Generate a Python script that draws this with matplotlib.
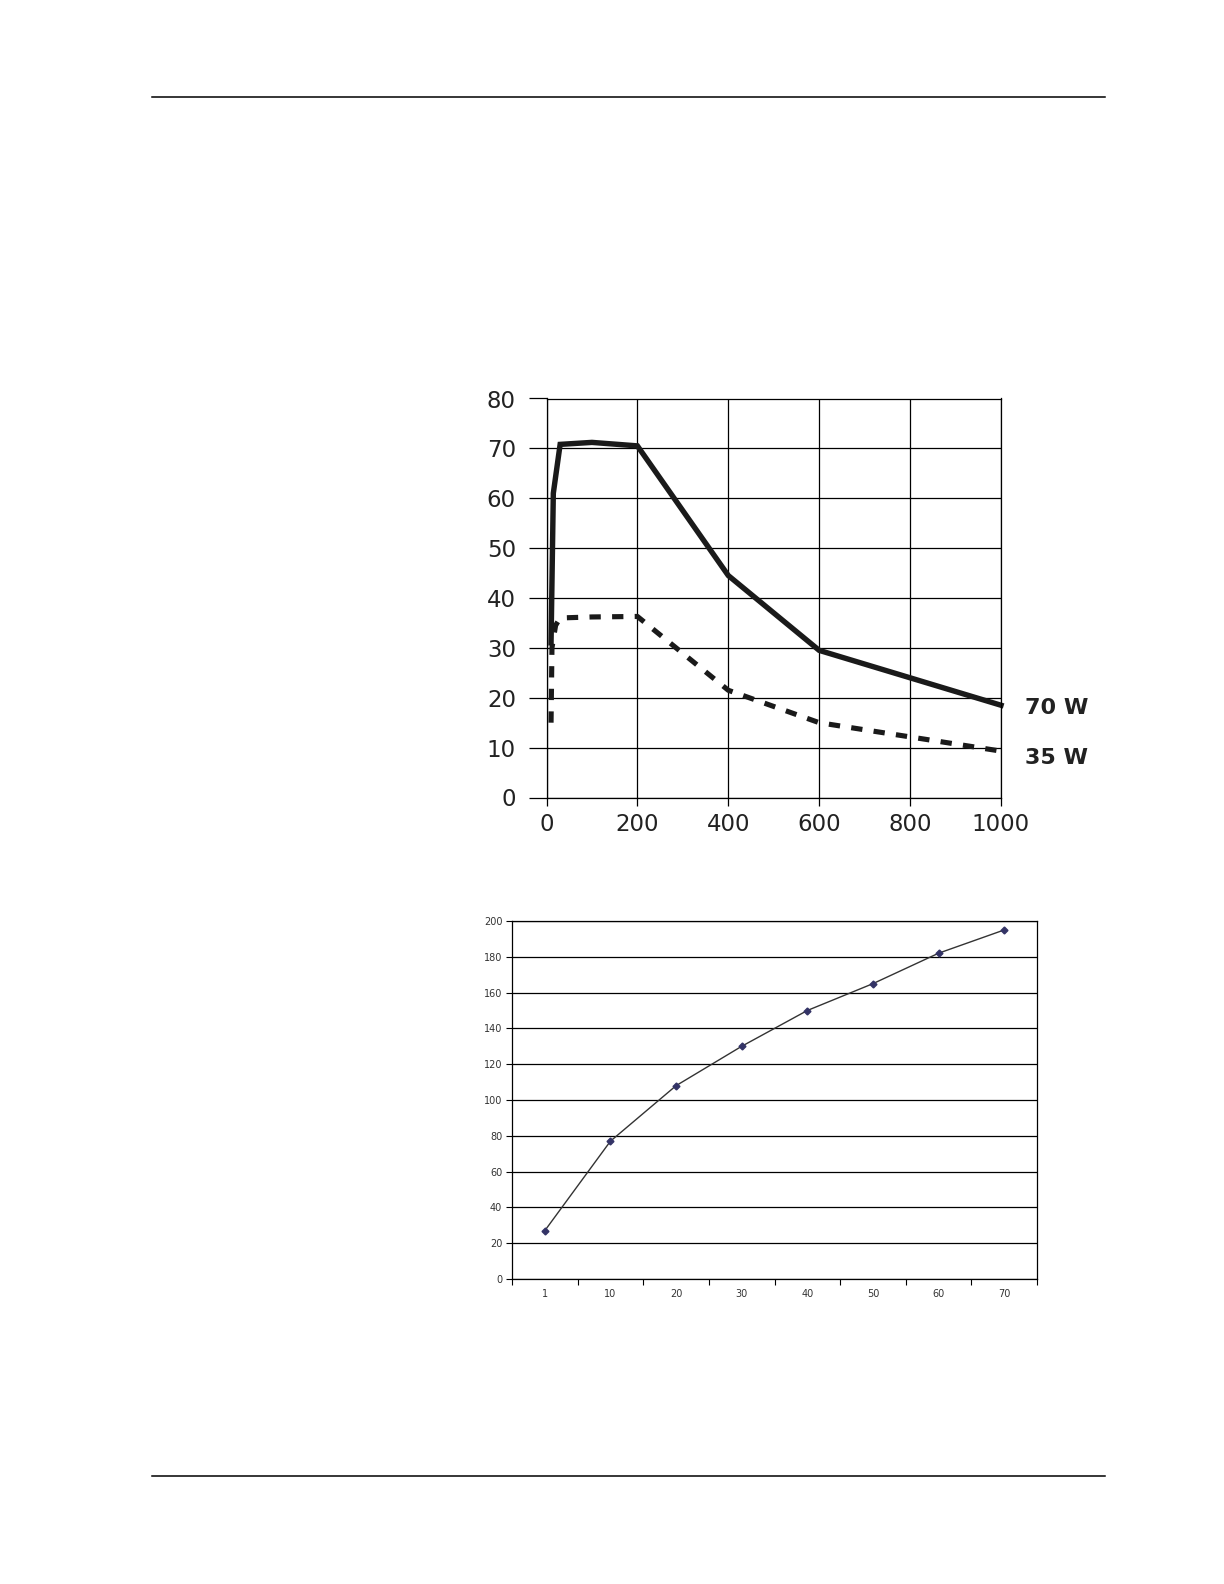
import matplotlib.pyplot as plt
import matplotlib.lines as mlines
import numpy as np

# 상단 그래프 데이터 (70 W / 35 W)
x70 = [10, 15, 30, 100, 200, 400, 600, 1000]
y70 = [31, 61, 70.8, 71.2, 70.5, 44.5, 29.5, 18.5]
x35 = [10, 12, 20, 30, 100, 200, 400, 600, 1000]
y35 = [15, 30, 34.5, 36, 36.2, 36.3, 21.5, 15, 9.3]
top_xticks = [0, 200, 400, 600, 800, 1000]
top_yticks = [0, 10, 20, 30, 40, 50, 60, 70, 80]

# 하단 그래프 데이터
cats = ['1', '10', '20', '30', '40', '50', '60', '70']
vals = [27, 77, 108, 130, 150, 165, 182, 195]
bot_yticks = [0, 20, 40, 60, 80, 100, 120, 140, 160, 180, 200]

fig = plt.figure(figsize=(12.24, 15.84), dpi=100)
W, H = 1224, 1584

# 머리글/바닥글 선
for yy in [97, 1475.5]:
    fig.add_artist(mlines.Line2D([151.5 / W, 1105 / W], [1 - yy / H, 1 - yy / H],
                                 color='black', lw=1.1))

# 상단 그래프
ax1 = fig.add_axes([546.5 / W, 1 - 797.5 / H, 454.5 / W, 399 / H])
ax1.plot(x70, y70, color='#1a1a1a', lw=3.9, solid_joinstyle='miter', clip_on=False)
ax1.plot(x35, y35, color='#1a1a1a', lw=3.7, linestyle=(0, (2.2, 2.2)), clip_on=False)
ax1.set_xlim(0, 1000)
ax1.set_ylim(0, 80)
ax1.set_xticks(top_xticks)
ax1.set_yticks(top_yticks)
ax1.grid(True, color='black', lw=0.9)
for s in ax1.spines.values():
    s.set_linewidth(0.9)
ax1.tick_params(axis='x', length=6, width=0.9, pad=5, labelsize=16.5)
ax1.tick_params(axis='y', length=13, width=0.9, pad=9, labelsize=16.5)
for lab in ax1.get_xticklabels() + ax1.get_yticklabels():
    lab.set_family('DejaVu Sans')
    lab.set_color('#222222')
ax1.text(1053, 17.9, '70 W', fontsize=16, fontweight='bold', va='center',
         ha='left', family='DejaVu Sans', color='#222222', clip_on=False)
ax1.text(1053, 8.0, '35 W', fontsize=16, fontweight='bold', va='center',
         ha='left', family='DejaVu Sans', color='#222222', clip_on=False)

# 하단 그래프
ax2 = fig.add_axes([512 / W, 1 - 1279 / H, 525 / W, 358 / H])
xpos = np.arange(len(cats))
ax2.plot(xpos, vals, color='#333333', lw=1.0, marker='D', markersize=3.5,
         markerfacecolor='#333366', markeredgecolor='#333366')
ax2.set_xlim(-0.5, len(cats) - 0.5)
ax2.set_ylim(0, 200)
ax2.set_yticks(bot_yticks)
ax2.set_xticks(np.arange(len(cats) + 1) - 0.5)
ax2.set_xticklabels([])
ax2.set_xticks(xpos, minor=True)
ax2.set_xticklabels(cats, minor=True)
ax2.tick_params(axis='x', which='major', length=4, width=0.8)
ax2.tick_params(axis='x', which='minor', length=0, pad=7, labelsize=7, labelcolor='#333333')
ax2.tick_params(axis='y', length=4, width=0.8, pad=3, labelsize=7, labelcolor='#333333')
ax2.yaxis.grid(True, color='black', lw=0.9)
for s in ax2.spines.values():
    s.set_linewidth(0.9)

fig.savefig('out.png', dpi=100)
